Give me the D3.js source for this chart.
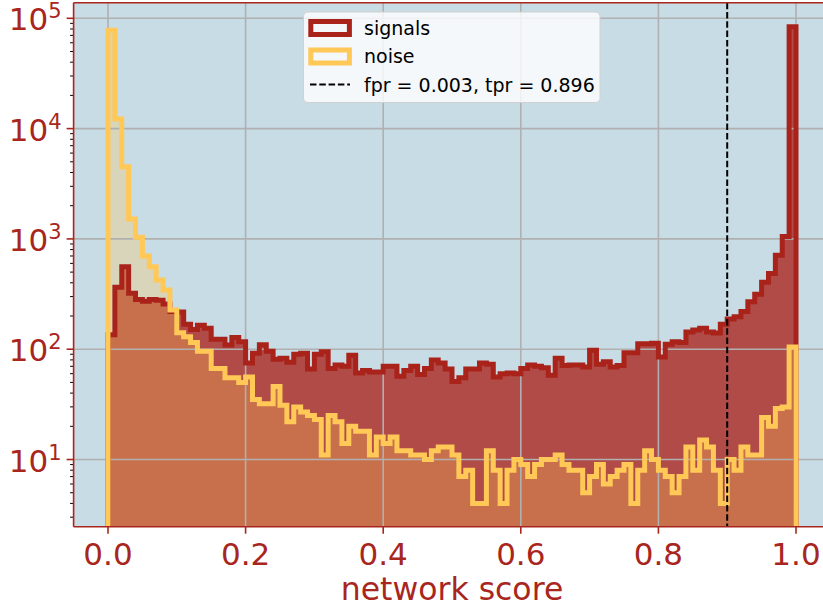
<!DOCTYPE html>
<html>
<head>
<meta charset="utf-8">
<script src="https://cdn.jsdelivr.net/npm/d3@7"></script>
<style>
  body { margin: 0; background: #ffffff; }
  text { font-family: 'DejaVu Sans', sans-serif; }
</style>
</head>
<body>
<script>
// 100 bins of width 0.01 on [0, 1]
const binEdges = d3.range(101).map((i) => i / 100)

const signals = [
  135, 365, 560, 321, 283, 272, 283, 278, 257, 220,
  218, 168, 151, 165, 155, 123, 123, 109, 128, 117,
  75, 92, 110, 96, 81, 83, 76, 90, 92, 66,
  90, 95, 67, 72, 70, 88, 61, 64, 62, 62,
  70, 70, 57, 64, 70, 59, 67, 80, 75, 66,
  51, 55, 66, 66, 75, 73, 56, 60, 61, 60,
  67, 72, 70, 68, 58, 83, 71, 72, 72, 69,
  98, 73, 77, 69, 71, 93, 93, 112, 112, 113,
  85, 111, 117, 115, 143, 149, 155, 143, 140, 168,
  188, 197, 220, 270, 315, 405, 487, 710, 1050, 84000,
]

const noise = [
  78000, 12200, 4520, 1515, 1035, 700, 560, 424, 344, 227,
  141, 130, 115, 96, 96, 67, 67, 55, 55, 50,
  56, 35, 32, 32, 46, 31, 22, 30, 27, 25,
  23, 11, 25, 22, 14, 20, 18, 18, 11, 16,
  14, 16, 12, 12, 11, 11, 10, 12, 13, 13,
  11, 7, 8, 4, 4, 12, 8, 4, 8, 10,
  9, 7, 9, 10, 10, 11, 9, 8, 8, 5,
  7, 9, 6, 7, 8, 9, 4, 8, 12, 10,
  8, 7, 5, 7, 13, 8, 15, 13, 8, 4,
  10, 8, 13, 11, 11, 24, 20, 29, 30, 105,
]

const threshold = 0.9
const legendLabels = ['signals', 'noise', 'fpr = 0.003, tpr = 0.896']
const xTicks = [0, 0.2, 0.4, 0.6, 0.8, 1.0]
const yTicks = [10, 100, 1000, 10000, 100000]
const xLabel = 'network score'

const RED = '#a9231a'
const YELLOW = '#ffc857'
const AXIS = '#a8261d'
const BG = '#c8dce6'

const box = { left: 73.6, right: 830.4, top: 2.7, bottom: 526.7 }

const svg = d3.select('body').append('svg').attr('width', 823).attr('height', 609)

const x = d3.scaleLinear().domain([-0.05, 1.05]).range([box.left, box.right])
const y = d3.scaleLog().domain([2.46, 138500]).range([box.bottom, box.top])

svg
  .append('clipPath')
  .attr('id', 'plot-clip')
  .append('rect')
  .attr('x', box.left)
  .attr('y', box.top)
  .attr('width', box.right - box.left)
  .attr('height', box.bottom - box.top)

svg
  .append('rect')
  .attr('x', box.left)
  .attr('y', box.top)
  .attr('width', box.right - box.left)
  .attr('height', box.bottom - box.top)
  .attr('fill', BG)

const plot = svg.append('g').attr('clip-path', 'url(#plot-clip)')

// step outline from the baseline, across the bin tops, back down
const FLOOR = 1
const stepPoints = (values) => [
  [binEdges[0], FLOOR],
  ...values.flatMap((v, i) => [
    [binEdges[i], v],
    [binEdges[i + 1], v],
  ]),
  [binEdges[binEdges.length - 1], FLOOR],
]

const line = d3
  .line()
  .x((d) => x(d[0]))
  .y((d) => y(d[1]))

const area = d3
  .area()
  .x((d) => x(d[0]))
  .y0(y(FLOOR))
  .y1((d) => y(d[1]))

const drawFill = (values, color, opacity) => {
  plot
    .append('path')
    .datum(stepPoints(values))
    .attr('d', area)
    .attr('fill', color)
    .attr('fill-opacity', opacity)
}

const drawOutline = (values, color) => {
  plot
    .append('path')
    .datum(stepPoints(values))
    .attr('d', line)
    .attr('fill', 'none')
    .attr('stroke', color)
    .attr('stroke-width', 5)
    .attr('stroke-linejoin', 'miter')
}

drawFill(signals, RED, 0.78)
drawFill(noise, YELLOW, 0.3)

// grid sits above the fills, below the outlines
const grid = plot.append('g').attr('stroke', '#b0b0b0').attr('stroke-width', 1.6)

grid
  .selectAll('line.gx')
  .data(xTicks)
  .enter()
  .append('line')
  .attr('x1', (d) => x(d))
  .attr('x2', (d) => x(d))
  .attr('y1', box.top)
  .attr('y2', box.bottom)

grid
  .selectAll('line.gy')
  .data(yTicks)
  .enter()
  .append('line')
  .attr('x1', box.left)
  .attr('x2', box.right)
  .attr('y1', (d) => y(d))
  .attr('y2', (d) => y(d))

drawOutline(signals, RED)
drawOutline(noise, YELLOW)

plot
  .append('line')
  .attr('x1', x(threshold))
  .attr('x2', x(threshold))
  .attr('y1', box.top)
  .attr('y2', box.bottom)
  .attr('stroke', '#000')
  .attr('stroke-width', 2)
  .attr('stroke-dasharray', '6.5,2.8')

// minor ticks on the log axis
const minorTicks = y.ticks().filter((t) => !yTicks.includes(t))

svg
  .append('g')
  .selectAll('line')
  .data(minorTicks)
  .enter()
  .append('line')
  .attr('x1', box.left - 3.5)
  .attr('x2', box.left)
  .attr('y1', (d) => y(d))
  .attr('y2', (d) => y(d))
  .attr('stroke', '#000')
  .attr('stroke-width', 1)

svg
  .append('g')
  .selectAll('line')
  .data(yTicks)
  .enter()
  .append('line')
  .attr('x1', box.left - 7)
  .attr('x2', box.left)
  .attr('y1', (d) => y(d))
  .attr('y2', (d) => y(d))
  .attr('stroke', AXIS)
  .attr('stroke-width', 1.6)

svg
  .append('g')
  .selectAll('line')
  .data(xTicks)
  .enter()
  .append('line')
  .attr('x1', (d) => x(d))
  .attr('x2', (d) => x(d))
  .attr('y1', box.bottom)
  .attr('y2', box.bottom + 7)
  .attr('stroke', AXIS)
  .attr('stroke-width', 1.6)

// spines: left, bottom, top (the right one falls outside the window)
const spines = svg.append('g').attr('stroke', AXIS).attr('stroke-width', 1.6).attr('fill', 'none')
spines.append('line').attr('x1', box.left).attr('x2', box.left).attr('y1', box.top).attr('y2', box.bottom)
spines.append('line').attr('x1', box.left).attr('x2', box.right).attr('y1', box.bottom).attr('y2', box.bottom)
spines.append('line').attr('x1', box.left).attr('x2', box.right).attr('y1', box.top).attr('y2', box.top)

const yLabels = svg
  .append('g')
  .selectAll('text')
  .data(yTicks)
  .enter()
  .append('text')
  .attr('x', box.left - 12)
  .attr('y', (d) => y(d) + 12)
  .attr('text-anchor', 'end')
  .attr('fill', AXIS)
  .attr('font-size', 31)

yLabels.append('tspan').text('10')
yLabels
  .append('tspan')
  .attr('dy', -12)
  .attr('font-size', 21)
  .text((d) => String(Math.round(Math.log10(d))))

svg
  .append('g')
  .selectAll('text')
  .data(xTicks)
  .enter()
  .append('text')
  .attr('x', (d) => x(d))
  .attr('y', 565)
  .attr('text-anchor', 'middle')
  .attr('fill', AXIS)
  .attr('font-size', 31)
  .text((d) => d.toFixed(1))

svg
  .append('text')
  .attr('x', (box.left + box.right) / 2)
  .attr('y', 600)
  .attr('text-anchor', 'middle')
  .attr('fill', AXIS)
  .attr('font-size', 31.5)
  .text(xLabel)

// legend
const legend = svg.append('g')

legend
  .append('rect')
  .attr('x', 303.5)
  .attr('y', 12)
  .attr('width', 296.5)
  .attr('height', 90.5)
  .attr('rx', 4)
  .attr('fill', '#ffffff')
  .attr('fill-opacity', 0.8)
  .attr('stroke', '#d0d0d0')
  .attr('stroke-width', 1)

const rowBase = [34.5, 63, 91.5]
const handleColors = [RED, YELLOW]

handleColors.forEach((c, i) => {
  legend
    .append('rect')
    .attr('x', 310.8)
    .attr('y', rowBase[i] - 13)
    .attr('width', 38.6)
    .attr('height', 13)
    .attr('fill', 'none')
    .attr('stroke', c)
    .attr('stroke-width', 5)
})

legend
  .append('line')
  .attr('x1', 310)
  .attr('x2', 350)
  .attr('y1', rowBase[2] - 7)
  .attr('y2', rowBase[2] - 7)
  .attr('stroke', '#000')
  .attr('stroke-width', 2)
  .attr('stroke-dasharray', '6.5,2.8')

legend
  .selectAll('text')
  .data(legendLabels)
  .enter()
  .append('text')
  .attr('x', 364)
  .attr('y', (d, i) => rowBase[i])
  .attr('font-size', 19)
  .attr('fill', '#000')
  .text((d) => d)
</script>
</body>
</html>
